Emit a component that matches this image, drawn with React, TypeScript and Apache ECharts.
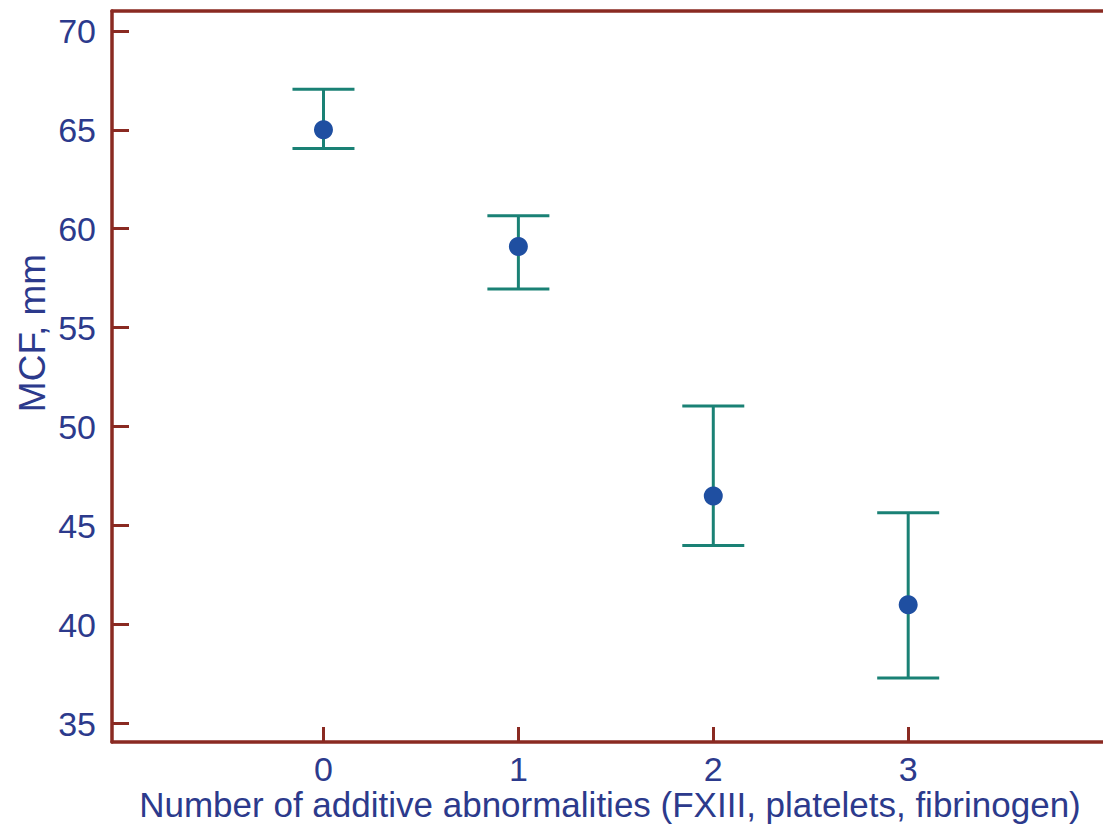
import React, { useEffect, useRef } from "react";
import * as echarts from "echarts";

const categories = [0, 1, 2, 3];
const means = [65.0, 59.1, 46.5, 41.0];
const lower = [64.05, 56.95, 44.0, 37.3];
const upper = [67.05, 60.65, 51.05, 45.65];
const yTicks = [35, 40, 45, 50, 55, 60, 65, 70];
const xTicks = [0, 1, 2, 3];
const xTitle = "Number of additive abnormalities (FXIII, platelets, fibrinogen)";
const yTitle = "MCF, mm";

const FRAME = "#8a2a22";
const TEAL = "#1a8175";
const DOT = "#1f4fa1";
const TEXT = "#2c3a8c";
const FONT = "'Liberation Sans', Arial, sans-serif";

export default function App() {
  const ref = useRef<HTMLDivElement>(null);
  useEffect(() => {
    if (!ref.current) return;
    const chart = echarts.init(ref.current, null, { renderer: "svg" });
    chart.setOption({
      animation: false,
      backgroundColor: "#ffffff",
      grid: { left: 112, top: 11, right: -4, bottom: 83, outerBoundsMode: "none", containLabel: false },
      xAxis: [
        {
          type: "value",
          min: -1.085,
          max: 4.02,
          position: "bottom",
          axisLine: { show: true, onZero: false, lineStyle: { color: FRAME, width: 3.5 } },
          axisTick: { show: true, inside: true, length: 15, customValues: xTicks, lineStyle: { color: FRAME, width: 3 } },
          axisLabel: { show: true, customValues: xTicks, color: TEXT, fontSize: 34, fontFamily: FONT, margin: 10 },
          splitLine: { show: false },
        },
        {
          type: "value",
          min: -1.085,
          max: 4.02,
          position: "top",
          axisLine: { show: true, onZero: false, lineStyle: { color: FRAME, width: 3.5 } },
          axisTick: { show: false },
          axisLabel: { show: false },
          splitLine: { show: false },
        },
      ],
      yAxis: {
        type: "value",
        min: 34.07,
        max: 71.0,
        axisLine: { show: true, onZero: false, lineStyle: { color: FRAME, width: 3.5 } },
        axisTick: { show: true, inside: true, length: 17, customValues: yTicks, lineStyle: { color: FRAME, width: 3 } },
        axisLabel: { show: true, customValues: yTicks, color: TEXT, fontSize: 34, fontFamily: FONT, margin: 16 },
        splitLine: { show: false },
      },
      graphic: [
        {
          type: "text",
          x: 32,
          y: 333,
          rotation: Math.PI / 2,
          style: {
            text: yTitle,
            fill: TEXT,
            font: `37px ${FONT}`,
            align: "center",
            verticalAlign: "middle",
          },
        },
        {
          type: "text",
          x: 610,
          y: 804,
          style: {
            text: xTitle,
            fill: TEXT,
            font: `35px ${FONT}`,
            align: "center",
            verticalAlign: "middle",
          },
        },
      ],
      series: [
        {
          type: "custom",
          xAxisIndex: 0,
          data: categories.map((c, i) => [c, lower[i], upper[i]]),
          renderItem: (params: any, api: any) => {
            const x = api.value(0);
            const lo = api.coord([x, api.value(1)]);
            const hi = api.coord([x, api.value(2)]);
            const hw = 31;
            const style = { stroke: TEAL, lineWidth: 3 };
            return {
              type: "group",
              children: [
                { type: "line", shape: { x1: lo[0], y1: lo[1], x2: hi[0], y2: hi[1] }, style },
                { type: "line", shape: { x1: hi[0] - hw, y1: hi[1], x2: hi[0] + hw, y2: hi[1] }, style },
                { type: "line", shape: { x1: lo[0] - hw, y1: lo[1], x2: lo[0] + hw, y2: lo[1] }, style },
              ],
            };
          },
          z: 2,
        },
        {
          type: "scatter",
          xAxisIndex: 0,
          data: categories.map((c, i) => [c, means[i]]),
          symbol: "circle",
          symbolSize: 19,
          itemStyle: { color: DOT, opacity: 1 },
          z: 3,
        },
      ],
    });
    return () => chart.dispose();
  }, []);
  return (
    <div
      ref={ref}
      style={{ position: "fixed", left: 0, top: 0, width: 1103, height: 825, background: "#fff" }}
    />
  );
}
